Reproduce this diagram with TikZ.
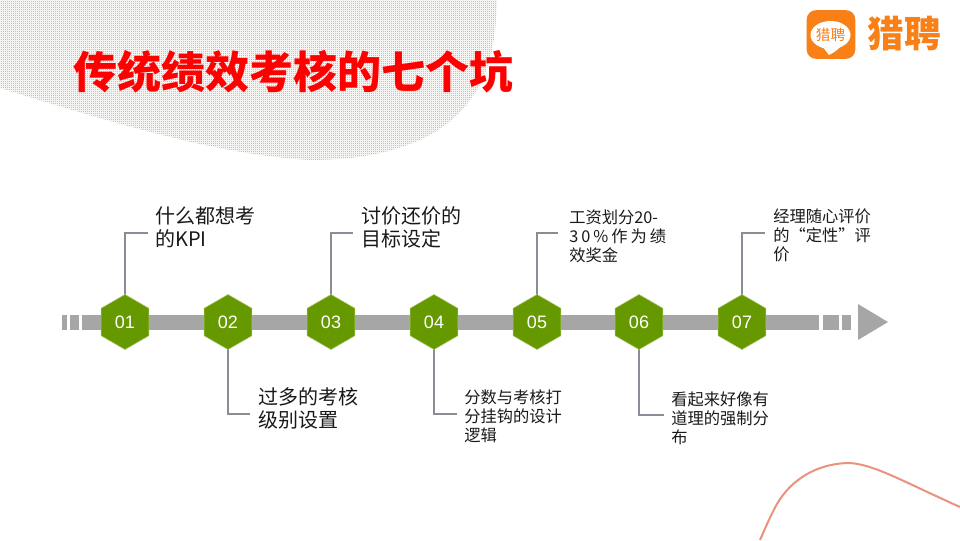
\documentclass[tikz,border=0pt]{standalone}
\usepackage{fontspec}
\setmainfont{Noto Sans CJK SC}
\newfontfamily\latinfont{Liberation Sans}
\usetikzlibrary{shapes.geometric,backgrounds,patterns}
\pgfdeclarepatternformonly{finedots}{\pgfqpoint{0pt}{0pt}}{\pgfqpoint{1.5pt}{1.5pt}}{\pgfqpoint{1.5pt}{1.5pt}}{%
  \pgfpathrectangle{\pgfqpoint{0pt}{0pt}}{\pgfqpoint{0.75pt}{0.75pt}}%
  \pgfpathrectangle{\pgfqpoint{0.75pt}{0.75pt}}{\pgfqpoint{0.75pt}{0.75pt}}%
  \pgfusepath{fill}}
\tikzset{
  x=0.75pt,y=-0.75pt,
  hexnode/.style={regular polygon,regular polygon sides=6,shape border rotate=30,minimum size=41.25pt,inner sep=0pt,fill=hexgreen,draw=hexedge,line width=0.4pt,text=white,font=\latinfont\fontsize{13.5pt}{14pt}\selectfont},
  link/.style={draw=linkgray,line width=1.1pt},
  barpart/.style={fill=bargray,draw=none},
  biglabel/.style={anchor=north west,inner sep=0pt,align=left,font=\fontsize{15pt}{17.6pt}\selectfont,text=black!90},
  smalllabel/.style={anchor=north west,inner sep=0pt,align=left,font=\fontsize{12.2pt}{14.1pt}\selectfont,text=black!90},
}
\definecolor{hexgreen}{HTML}{669900}
\definecolor{hexedge}{HTML}{A9C76A}
\definecolor{linkgray}{HTML}{8C8C96}
\definecolor{bargray}{HTML}{A6A6A6}
\definecolor{dotgray}{HTML}{A5A49C}
\definecolor{logoorange}{HTML}{F98016}
\definecolor{curvecol}{HTML}{E9927C}
\begin{document}
\begin{tikzpicture}
\useasboundingbox (0,0) rectangle (960,540);
% dotted blob
\fill[pattern=finedots,pattern color=dotgray] (0,0) -- (497,0) .. controls (496,40) and (490,75) .. (470,100)
  .. controls (445,135) and (395,160) .. (310,160)
  .. controls (220,155) and (120,125) .. (0,88) -- cycle;
% title
\node[anchor=center,inner sep=0pt,text=red,font=\bfseries\fontsize{33pt}{36pt}\selectfont] (title) at (293,72) {传统绩效考核的七个坑};
% logo
\node[fill=logoorange,rounded corners=7pt,minimum width=36.5pt,minimum height=36.5pt,inner sep=0pt] (logobox) at (831,34.5) {};
\fill[white] (830.5,35) ellipse [x radius=20,y radius=14];
\fill[white] (822,46) -- (829,55) .. controls (833,53) and (838,50) .. (842,45) -- cycle;
\node[inner sep=0pt,text=logoorange,font=\fontsize{11pt}{12pt}\selectfont] (logosmall) at (830.5,35) {猎聘};
\node[inner sep=0pt,text=logoorange,font=\bfseries\fontsize{27.5pt}{30pt}\selectfont] (logotext) at (904,34) {猎聘};
% hexagons
\node[hexnode] (h1) at (125,322) {01};
\node[hexnode] (h2) at (228,322) {02};
\node[hexnode] (h3) at (331,322) {03};
\node[hexnode] (h4) at (434,322) {04};
\node[hexnode] (h5) at (537,322) {05};
\node[hexnode] (h6) at (639,322) {06};
\node[hexnode] (h7) at (742,322) {07};
\coordinate (c1) at (148,233);
\coordinate (c2) at (250,414);
\coordinate (c3) at (353,233);
\coordinate (c4) at (457,414);
\coordinate (c5) at (558,233);
\coordinate (c6) at (664,415);
\coordinate (c7) at (765,233);
\begin{scope}[on background layer]
\fill[barpart] (82,315) rectangle (819,330);
\fill[barpart] (62,315) rectangle (67,330);
\fill[barpart] (70,315) rectangle (79,330);
\fill[barpart] (823,315) rectangle (839,330);
\fill[barpart] (842,315) rectangle (851,330);
\fill[barpart] (858,304) -- (888,322) -- (858,340) -- cycle;
\draw[link] (h1.center) |- (c1);
\draw[link] (h2.center) |- (c2);
\draw[link] (h3.center) |- (c3);
\draw[link] (h4.center) |- (c4);
\draw[link] (h5.center) |- (c5);
\draw[link] (h6.center) |- (c6);
\draw[link] (h7.center) |- (c7);
\end{scope}
% labels
\node[biglabel] (t1) at (155,206) {什么都想考\\的KPI};
\node[biglabel] (t2) at (258,387) {过多的考核\\级别设置};
\node[biglabel] (t3) at (361,206) {讨价还价的\\目标设定};
\node[smalllabel] (t4) at (464,389.5) {分数与考核打\\分挂钩的设计\\逻辑};
\node[smalllabel] (t5) at (569,210) {工资划分20-\\\makebox[72.7pt][s]{3\hfil 0\hfil \%\hfil 作\hfil 为\hfil 绩}\\效奖金};
\node[smalllabel] (t6) at (671,392) {看起来好像有\\道理的强制分\\布};
\node[smalllabel] (t7) at (773,209) {经理随心评价\\\makebox[72.7pt][s]{的\hfil “定\hfil 性”\hfil 评}\\价};
% decorative curve
\draw[curvecol,line width=1.5pt] (760,540) .. controls (768,522) and (775,505) .. (783,495)
  .. controls (800,473) and (825,463) .. (850,463)
  .. controls (875,465) and (900,480) .. (960,507);
\end{tikzpicture}
\end{document}
